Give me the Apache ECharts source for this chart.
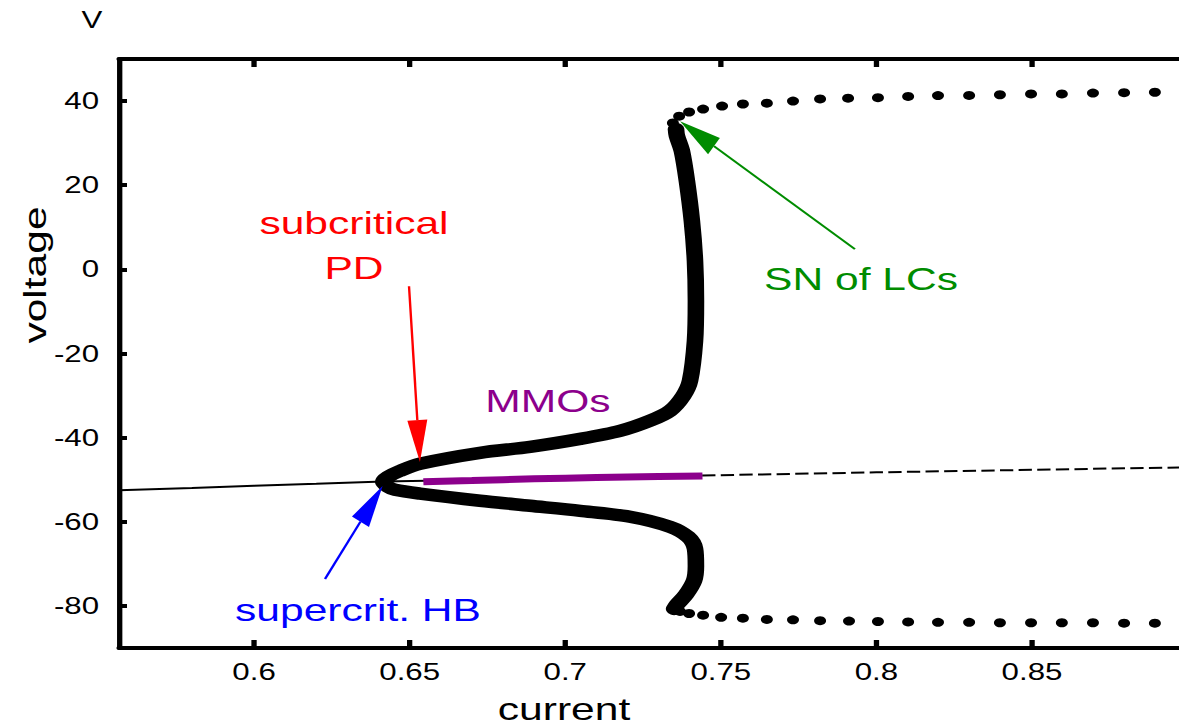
<!DOCTYPE html>
<html>
<head>
<meta charset="utf-8">
<script src="https://cdn.jsdelivr.net/npm/echarts@6/dist/echarts.min.js"></script>
<style>
html,body{margin:0;padding:0;overflow:hidden;background:#fff;width:1179px;height:726px;}
#c{width:910px;height:726px;transform:scaleX(1.33);transform-origin:0 0;}
</style>
</head>
<body>
<div id="c"></div>
<script>
// ---- data (current, voltage) ----
const X_TICKS = [0.6, 0.65, 0.7, 0.75, 0.8, 0.85, 0.9];
const X_TICK_LABELS = ['0.6', '0.65', '0.7', '0.75', '0.8', '0.85', ''];
const Y_TICKS = [-80, -60, -40, -20, 0, 20, 40];
const Y_TICK_LABELS = ['-80', '-60', '-40', '-20', '0', '20', '40'];

// stable equilibrium branch (left of Hopf) continuing under the MMO segment
const stableBranch = [[0.5566, -52.5], [0.58, -51.95], [0.60, -51.45], [0.62, -50.95], [0.6415, -50.4], [0.66, -50.2], [0.70, -49.6], [0.744, -49.0]];
// unstable equilibrium branch (dashed)
const unstableBranch = [[0.744, -49.0], [0.80, -48.25], [0.85, -47.65], [0.90, -47.05]];
// MMO segment
const mmoBranch = [[0.6544, -50.5], [0.67, -50.2], [0.69, -49.8], [0.71, -49.5], [0.73, -49.25], [0.7441, -49.1]];
// limit cycle max/min (thick), from upper fold down to lower end
const lcBranch = [
  [0.7356, 33.35], [0.7359, 31.7], [0.7375, 28.1], [0.7391, 21.0], [0.7407, 11.5], [0.7417, 2.0],
  [0.7420, -7.5], [0.7417, -17.0], [0.7401, -26.5], [0.7379, -30.1], [0.7337, -33.6], [0.7272, -36.0],
  [0.7176, -38.4], [0.7048, -40.3], [0.6887, -42.2], [0.6726, -43.6], [0.6533, -46.2], [0.6469, -47.9],
  [0.6431, -49.3], [0.6415, -50.5], [0.6431, -51.7], [0.6453, -52.4], [0.6533, -53.3], [0.6726, -55.0],
  [0.6887, -56.2], [0.7048, -57.4], [0.7208, -58.8], [0.7337, -61.2], [0.7395, -63.6], [0.7417, -66.4],
  [0.7420, -70.5], [0.7414, -74.0], [0.7388, -77.3], [0.7359, -79.7], [0.7350, -80.7]
];
// limit cycle max (dotted, upper)
const lcUpperDots = [
  [0.7346, 34.8], [0.7366, 36.4], [0.7398, 37.4], [0.7443, 38.1], [0.7504, 38.8], [0.7571, 39.3],
  [0.7648, 39.5], [0.7732, 40.0], [0.7819, 40.5], [0.7909, 40.7], [0.8005, 40.8], [0.8102, 41.1],
  [0.8198, 41.3], [0.8298, 41.35], [0.8397, 41.5], [0.8497, 41.7], [0.8596, 41.7], [0.8696, 41.9],
  [0.8796, 42.0], [0.8895, 42.1]
];
// limit cycle min (dotted, lower)
const lcLowerDots = [
  [0.7369, -81.3], [0.7398, -81.8], [0.7443, -82.2], [0.7501, -82.7], [0.7571, -82.9], [0.7648, -83.2],
  [0.7732, -83.3], [0.7819, -83.5], [0.7912, -83.6], [0.8005, -83.7], [0.8102, -83.8], [0.8198, -83.9],
  [0.8298, -83.9], [0.8397, -84.0], [0.8497, -84.0], [0.8596, -84.0], [0.8696, -84.0], [0.8796, -84.1],
  [0.8895, -84.1]
];
// annotation arrows: [tailX, tailY, tipX, tipY]
const arrows = [
  [0.6498, -4.0, 0.6533, -45.8],
  [0.6228, -73.6, 0.6413, -51.5],
  [0.7931, 4.8, 0.7369, 35.2]
];
const arrowColors = ['#ff0000', '#0000ff', '#008c00'];

// ---- chart ----
const S = 1.33; // horizontal stretch of the container
const FONT = '"Liberation Sans", Arial, sans-serif';
const chart = echarts.init(document.getElementById('c'), null, {renderer: 'svg'});

function mkX(pos, labels) {
  return {
    type: 'value', position: pos, min: 0.5566, max: 0.9,
    axisLine: {show: true, onZero: false, lineStyle: {color: '#000', width: 4}},
    axisTick: {show: true, inside: true, length: 8, customValues: X_TICKS, lineStyle: {color: '#000', width: 4}},
    axisLabel: {show: labels, customValues: X_TICKS, margin: 12, color: '#000', fontSize: 23.5, fontFamily: FONT,
      formatter: v => { const i = X_TICKS.findIndex(t => Math.abs(t - v) < 1e-9); return i >= 0 ? X_TICK_LABELS[i] : ''; }},
    splitLine: {show: false}
  };
}
function mkY(pos, labels) {
  return {
    type: 'value', position: pos, min: -90, max: 50,
    axisLine: {show: true, onZero: false, lineStyle: {color: '#000', width: 4}},
    axisTick: {show: true, inside: true, length: 6, customValues: Y_TICKS, lineStyle: {color: '#000', width: 4}},
    axisLabel: {show: labels, customValues: Y_TICKS, margin: 15, color: '#000', fontSize: 23.5, fontFamily: FONT,
      formatter: v => { const i = Y_TICKS.findIndex(t => Math.abs(t - v) < 1e-9); return i >= 0 ? Y_TICK_LABELS[i] : ''; }},
    splitLine: {show: false}
  };
}

function txt(text, x, y, color, size, extra) {
  return Object.assign({
    type: 'text', x: x, y: y, z: 100,
    style: {text: text, fill: color, font: size + 'px ' + FONT, fontSize: size, fontFamily: FONT,
      textAlign: 'center', textVerticalAlign: 'middle', align: 'center', verticalAlign: 'middle'}
  }, extra || {});
}

const option = {
  animation: false,
  backgroundColor: '#fff',
  grid: {left: 89.5, top: 59, right: 17.1, bottom: 78, containLabel: false},
  xAxis: [mkX('bottom', true), mkX('top', false)],
  yAxis: [mkY('left', true), mkY('right', false)],
  series: [
    {type: 'line', data: stableBranch, showSymbol: false, z: 2, lineStyle: {color: '#000', width: 2}},
    {type: 'line', data: unstableBranch, showSymbol: false, z: 2, lineStyle: {color: '#000', width: 2, type: [10, 4]}},
    {type: 'line', data: mmoBranch, showSymbol: false, z: 3, smooth: true, lineStyle: {color: '#8c008c', width: 7}},
    {type: 'line', data: lcBranch, showSymbol: false, z: 4, smooth: 0.3, lineStyle: {color: '#000', width: 12.5, cap: 'round', join: 'round'}},
    {type: 'scatter', data: lcUpperDots, z: 4, symbol: 'circle', symbolSize: 9, itemStyle: {color: '#000', opacity: 1}},
    {type: 'scatter', data: lcLowerDots, z: 4, symbol: 'circle', symbolSize: 9, itemStyle: {color: '#000', opacity: 1}},
    {
      type: 'custom', z: 10, clip: false, data: arrows,
      renderItem: function (params, api) {
        const p1 = api.coord([api.value(0), api.value(1)]);
        const p2 = api.coord([api.value(2), api.value(3)]);
        const col = arrowColors[params.dataIndex];
        const ax = p1[0] * S, ay = p1[1], bx = p2[0] * S, by = p2[1];
        let dx = bx - ax, dy = by - ay; const len = Math.hypot(dx, dy); dx /= len; dy /= len;
        const HL = 42, HW = 20;
        const cx = bx - dx * HL, cy = by - dy * HL;
        const nx = -dy, ny = dx;
        const pts = [[bx / S, by], [(cx + nx * HW / 2) / S, cy + ny * HW / 2], [(cx - nx * HW / 2) / S, cy - ny * HW / 2]];
        return {type: 'group', children: [
          {type: 'line', shape: {x1: p1[0], y1: p1[1], x2: cx / S, y2: cy}, style: {stroke: col, lineWidth: 1.8}},
          {type: 'polygon', shape: {points: pts}, style: {fill: col}}
        ]};
      }
    }
  ],
  graphic: [
    txt('V', 92 / S, 20, '#000', 23.5),
    txt('voltage', 35 / S, 275, '#000', 32, {rotation: Math.PI / 2, scaleX: S, scaleY: 1 / S}),
    txt('current', 564 / S, 709, '#000', 32),
    txt('subcritical', 354 / S, 223, '#ff0000', 32),
    txt('PD', 354 / S, 268, '#ff0000', 32),
    txt('MMOs', 548 / S, 401, '#8c008c', 32),
    txt('SN of LCs', 861 / S, 279, '#008c00', 32),
    txt('supercrit. HB', 358 / S, 610, '#0000ff', 32)
  ]
};
chart.setOption(option);
</script>
</body>
</html>
